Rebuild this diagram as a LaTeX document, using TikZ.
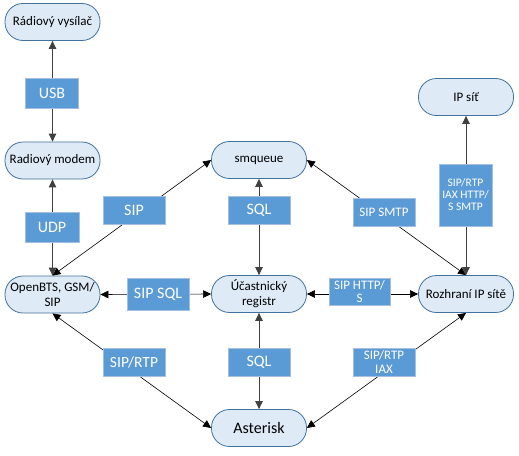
\documentclass[tikz,border=0pt]{standalone}
\usepackage{fontspec}
\setmainfont{Carlito}
\usetikzlibrary{arrows.meta}
\definecolor{nodefill}{HTML}{DEEBF7}
\definecolor{nodeline}{HTML}{41719C}
\definecolor{labfill}{HTML}{5B9BD5}
\definecolor{labline}{HTML}{A3C0E3}
\definecolor{edgegray}{HTML}{404040}
\begin{document}
\begin{tikzpicture}[x=1pt,y=-1pt,
 ent/.style={rectangle, rounded corners=18pt, draw=nodeline, fill=nodefill, line width=0.8pt,
   minimum width=95pt, minimum height=37pt, inner sep=1pt, align=center,
   font=\fontsize{13}{15}\selectfont},
 lab/.style={rectangle, draw=labline, fill=labfill, line width=0.8pt, text=white,
   align=center, inner sep=0pt},
 bigt/.style={font=\fontsize{16}{18}\selectfont},
 midt/.style={font=\fontsize{13}{13.5}\selectfont},
 smallt/.style={font=\fontsize{11.5}{12}\selectfont},
 conn/.style={{Triangle[length=8pt,width=7.5pt]}-{Triangle[length=8pt,width=7.5pt]}, draw=edgegray, line width=0.9pt},
 dconn/.style={{Triangle[length=8pt,width=7.5pt]}-{Triangle[length=8pt,width=7.5pt]}, draw=black, line width=0.6pt}]
\useasboundingbox (0,0) rectangle (519,455);
% entities
\node[ent] (rv) at (52.5,22) {Rádiový vysílač};
\node[ent] (rm) at (52.5,160.5) {Radiový modem};
\node[ent] (ob) at (52.5,294.5) {OpenBTS, GSM/\\SIP};
\node[ent] (sq) at (259,160) {smqueue};
\node[ent] (ur) at (259,294) {Účastnický\\registr};
\node[ent, font=\fontsize{16}{18}\selectfont] (as) at (259,428) {Asterisk};
\node[ent] (ip) at (466,97) {IP síť};
\node[ent] (rz) at (466,294) {Rozhraní IP sítě};
% connectors
\draw[conn] (rv.south) -- (rm.north);
\draw[conn] (rm.south) -- (ob.north);
\draw[dconn] (ob.north) -- (sq.west);
\draw[conn] (sq.south) -- (ur.north);
\draw[dconn] (sq.east) -- (rz.north);
\draw[conn] (ip.south) -- (rz.north);
\draw[dconn] (ob.east) -- (ur.west);
\draw[dconn] (ur.east) -- (rz.west);
\draw[dconn] (ob.south) -- (as.west);
\draw[conn] (ur.south) -- (as.north);
\draw[dconn] (rz.south) -- (as.east);
% labels
\node[lab, bigt, minimum width=53pt, minimum height=30pt] (lusb) at (52,93) {USB};
\node[lab, bigt, minimum width=54pt, minimum height=30pt] (ludp) at (52,227) {UDP};
\node[lab, bigt, minimum width=62pt, minimum height=28pt] (lsip) at (134,210) {SIP};
\node[lab, bigt, minimum width=62pt, minimum height=28pt] (lsql) at (259,210) {SQL};
\node[lab, midt, minimum width=62pt, minimum height=28pt] (lsmtp) at (384,212) {SIP SMTP};
\node[lab, smallt, minimum width=53pt, minimum height=62pt] (lipn) at (465.5,195) {SIP/RTP\\IAX HTTP/\\S SMTP};
\node[lab, bigt, minimum width=62pt, minimum height=32pt] (lsipsql) at (158,294) {SIP SQL};
\node[lab, midt, minimum width=61pt, minimum height=27pt] (lhttp) at (359.5,291.5) {SIP HTTP/\\S};
\node[lab, font=\fontsize{15.5}{17}\selectfont, minimum width=62pt, minimum height=28pt] (lrtp) at (134,362) {SIP/RTP};
\node[lab, bigt, minimum width=62pt, minimum height=28pt] (lsql2) at (259,362) {SQL};
\node[lab, midt, minimum width=62pt, minimum height=28pt] (liax) at (384,362) {SIP/RTP\\IAX};
\end{tikzpicture}
\end{document}
